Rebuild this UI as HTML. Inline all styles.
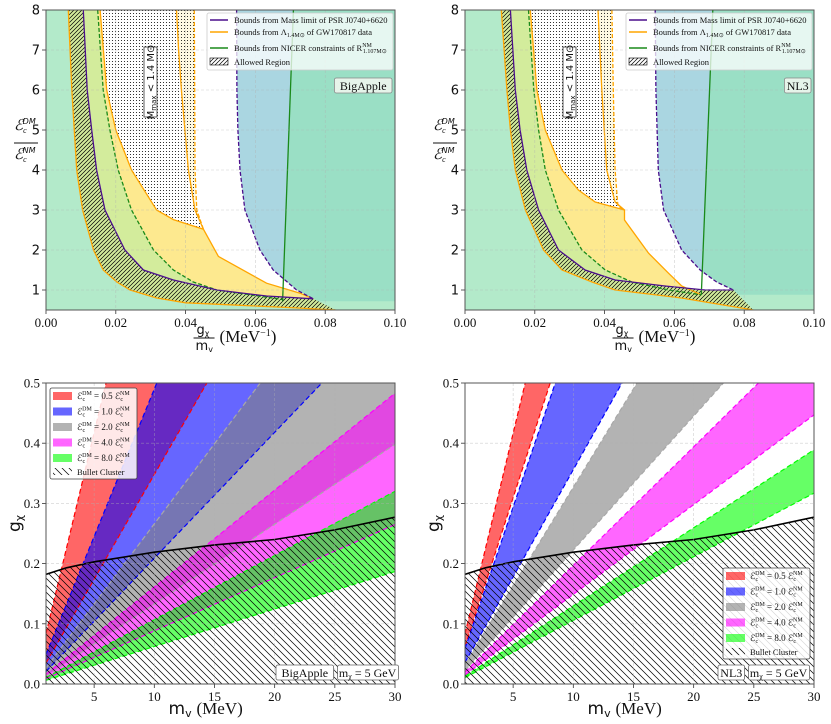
<!DOCTYPE html>
<html><head><meta charset="utf-8"><style>
html,body{margin:0;padding:0;background:#fff;}
svg{display:block;font-family:"Liberation Serif",serif;}
</style></head><body>
<svg id="chart" width="831" height="724" viewBox="0 0 831 724" xmlns="http://www.w3.org/2000/svg">
<defs>
<pattern id="hatchF" patternUnits="userSpaceOnUse" width="4" height="4"><path d="M0,4 L4,0 M-1,1 L1,-1 M3,5 L5,3" stroke="#000" stroke-width="0.7"/></pattern>
<pattern id="hatchB" patternUnits="userSpaceOnUse" width="7" height="7"><path d="M0,0 L7,7 M-1,6 L1,8 M6,-1 L8,1" stroke="#000" stroke-width="0.7"/></pattern>
<pattern id="dots" patternUnits="userSpaceOnUse" width="3" height="3"><circle cx="1.5" cy="1.5" r="0.55" fill="#000"/></pattern>
<clipPath id="c0"><rect x="46" y="10" width="349" height="300"/></clipPath>
<clipPath id="c1"><rect x="465" y="10" width="349" height="300"/></clipPath>
<clipPath id="c2"><rect x="46" y="383" width="349" height="301"/></clipPath>
<clipPath id="c3"><rect x="465" y="383" width="349" height="301"/></clipPath>
</defs>
</svg>
<script>
// ---------- Top panels data: [g/m, eps ratio] ----------
const baA=[[0.0064,8],[0.0074,6],[0.0088,4],[0.0105,3],[0.0136,2],[0.0164,1.5],[0.0203,1.2],[0.0241,1.0],[0.0317,0.8],[0.040,0.68],[0.055,0.62],[0.070,0.56],[0.083,0.5]];
const baB=[[0.0107,8],[0.0118,6],[0.0131,5],[0.0145,4],[0.0169,3],[0.0226,2],[0.0279,1.5],[0.0365,1.25],[0.049,1.0],[0.0632,0.85],[0.0766,0.78]];
const baC=[[0.0148,8],[0.0164,6],[0.0183,5],[0.0207,4],[0.0245,3],[0.0308,2],[0.0365,1.5],[0.0422,1.2],[0.049,1.0],[0.068,0.76]];
const baD=[[0.0155,8],[0.0174,6],[0.020,5],[0.0245,4],[0.0317,3],[0.0365,2.76],[0.0451,2.52],[0.0494,1.84],[0.0632,1.17],[0.0728,0.92],[0.0766,0.78]];
const baDk=6;
const baD2=[[0.0374,8],[0.038,7],[0.0388,6],[0.0398,5],[0.0408,4],[0.0427,3],[0.0451,2.52]];
const baE=[[0.0425,8],[0.0426,6],[0.0427,4],[0.0432,3],[0.0451,2.52]];
const baF=[[0.0546,8],[0.0547,6],[0.0550,5],[0.0556,4],[0.057,3],[0.0613,2],[0.0651,1.5],[0.0718,1.0],[0.0766,0.78]];
const baG=[[0.0709,8],[0.0678,0.72]];

const nlA=[[0.0104,8],[0.012,6],[0.0130,5],[0.0144,4],[0.0173,3],[0.0225,2],[0.0278,1.5],[0.0364,1.2],[0.043,1.0],[0.062,0.8],[0.0826,0.5]];
const nlB=[[0.013,8],[0.0144,6],[0.0158,5],[0.0177,4],[0.0211,3],[0.0268,2],[0.0344,1.5],[0.043,1.25],[0.0573,1.1],[0.0688,1.0],[0.0769,1.0]];
const nlC=[[0.0182,8],[0.0197,6],[0.0211,5],[0.023,4],[0.0268,3],[0.0335,2],[0.0402,1.5],[0.0478,1.2],[0.0583,1.0],[0.0677,0.88]];
const nlD=[[0.0187,8],[0.0206,6],[0.023,5],[0.0278,4],[0.0325,3.5],[0.0373,3.2],[0.0457,3.0],[0.0457,2.75],[0.0526,1.92],[0.0583,1.42],[0.0621,1.1],[0.0677,0.88]];
const nlDk=6;
const nlD2=[[0.0381,8],[0.0392,6],[0.0406,4],[0.043,3.2],[0.0457,3.0]];
const nlE=[[0.0421,8],[0.0425,6],[0.043,4],[0.0438,3.1],[0.0457,3.0]];
const nlF=[[0.0545,8],[0.0547,6],[0.0554,4],[0.0569,3],[0.0621,2],[0.0674,1.5],[0.0721,1.2],[0.0769,1.0]];
const nlG=[[0.071,8],[0.0677,0.88]];

const topXTicks=[0,0.02,0.04,0.06,0.08,0.10];
const topXLabels=["0.00","0.02","0.04","0.06","0.08","0.10"];
const topYTicks=[1,2,3,4,5,6,7,8];

// ---------- Bottom panels data: band slopes g/m ----------
const bandLabels=["0.5","1.0","2.0","4.0","8.0"];
const bandColors=["#ff0000","#0000ff","#808080","#ff00ff","#00ff00"];
const baBandUpper=[0.0835,0.049,0.0266,0.0161,0.01067];
const baBandLower=[0.0348,0.0209,0.01327,0.00883,0.00623];
const nlBandUpper=[0.0833,0.0588,0.0327,0.0197,0.01297];
const nlBandLower=[0.0619,0.0356,0.02225,0.0149,0.01057];
const bulletM=[1,2.7,5,10,15,20,25,30];
const bulletG=[0.182,0.193,0.203,0.219,0.231,0.240,0.256,0.277];
const botXTicks=[5,10,15,20,25,30];
const botYTicks=[0,0.1,0.2,0.3,0.4,0.5];
const botYLabels=["0.0","0.1","0.2","0.3","0.4","0.5"];

const NS="http://www.w3.org/2000/svg";
const svg=document.getElementById('chart');
function mk(tag,attrs,name,parent){
  const el=document.createElementNS(NS,tag);
  for(const k in attrs) el.setAttribute(k,attrs[k]);
  
  
  (parent||svg).appendChild(el);
  return el;
}
function scale(p0,p1,d0,d1){return v=>p0+(v-d0)/(d1-d0)*(p1-p0);}
function pts(arr,sx,sy){return arr.map(p=>sx(p[0]).toFixed(1)+","+sy(p[1]).toFixed(1)).join(" ");}
function txt(x,y,s,attrs,name,parent){const t=mk('text',Object.assign({x:x,y:y},attrs),name,parent);t.innerHTML=s;return t;}

function axesFrame(x0,x1,yt,yb,sx,sy,xt,xl,yt2,yl,g,ysans){
  xt.forEach((v,i)=>{
    mk('line',{x1:sx(v),x2:sx(v),y1:yt,y2:yb,stroke:"#b0b0b0","stroke-width":0.6,"stroke-dasharray":"3,2",opacity:0.6},'x-grid-line',g);
    mk('line',{x1:sx(v),x2:sx(v),y1:yb,y2:yb+4,stroke:"#333","stroke-width":0.8},'x-tick',g);
    txt(sx(v),yb+17,xl[i],{"text-anchor":"middle","font-size":13,fill:"#111"},'x-tick-label',g);
  });
  yt2.forEach((v,i)=>{
    mk('line',{x1:x0,x2:x1,y1:sy(v),y2:sy(v),stroke:"#b0b0b0","stroke-width":0.6,"stroke-dasharray":"3,2",opacity:0.6},'y-grid-line',g);
    mk('line',{x1:x0-4,x2:x0,y1:sy(v),y2:sy(v),stroke:"#333","stroke-width":0.8},'y-tick',g);
    txt(x0-6,sy(v)+4.5,yl[i],{"text-anchor":"end","font-size":13,fill:"#111","font-family":ysans?'"DejaVu Sans",sans-serif':'"Liberation Serif",serif'},'y-tick-label',g);
  });
  mk('rect',{x:x0,y:yt,width:x1-x0,height:yb-yt,fill:"none",stroke:"#555","stroke-width":1},'plot-frame',g);
}

function topPanel(id,x0,x1,d,label,legX,mmX){
  const g=mk('g',{},'panel-'+id);
  const sx=scale(x0,x1,0,0.1), sy=scale(310,10,0.5,8);
  const c=mk('g',{"clip-path":"url(#c"+id+")"},'plot-area',g);
  mk('rect',{x:x0,y:10,width:x1-x0,height:300,fill:"#b3eaca"},'excluded-region',c);
  mk('polygon',{points:pts(d.G.concat([[0.1,d.G[1][1]],[0.1,8]]),sx,sy),fill:"#9adfc5"},'nicer-excluded-region',c);
  mk('polygon',{points:pts(d.F.concat(d.G.slice().reverse()),sx,sy),fill:"#aad6e1"},'mass-limit-region',c);
  mk('polygon',{points:pts(d.D.concat(d.F.slice().reverse()),sx,sy),fill:"#ffffff"},'white-region',c);
  mk('polygon',{points:pts(d.C.concat(d.D.slice().reverse()),sx,sy),fill:"#fde98f"},'lambda-region',c);
  mk('polygon',{points:pts(d.B.concat(d.C.slice().reverse()),sx,sy),fill:"#d3ec9c"},'yellowgreen-band',c);
  const hp=d.A.concat(d.B.slice().reverse());
  mk('polygon',{points:pts(hp,sx,sy),fill:"#d3ec9c"},'allowed-region-fill',c);
  mk('polygon',{points:pts(hp,sx,sy),fill:"url(#hatchF)"},'allowed-region-hatch',c);
  mk('polygon',{points:pts(d.D2.concat(d.E.slice().reverse()),sx,sy),fill:"#fde98f"},'lambda-strip',c);
  const dp=d.D.slice(0,d.k+1).concat(d.E.slice().reverse());
  mk('polygon',{points:pts(dp,sx,sy),fill:"#fff",opacity:0.75},'mmax-region-bg',c);
  mk('polygon',{points:pts(dp,sx,sy),fill:"url(#dots)"},'mmax-region-dots',c);
  const L=(a,col,dash,nm,w)=>mk('polyline',{points:pts(a,sx,sy),fill:"none",stroke:col,"stroke-width":w||1.3,"stroke-dasharray":dash||"none"},nm,c);
  L(d.A,"#ffa500",null,'orange-lower-bound');
  L(d.D,"#ffa500",null,'orange-bound');
  L(d.D2,"#ffa500",null,'orange-bound-2');
  L(d.E,"#ffa500","4,2",'orange-dashed-bound');
  L(d.C,"#1a8a1a","4,2",'green-dashed-bound');
  L(d.G,"#1a8a1a",null,'nicer-bound');
  L(d.B,"#4b0f8c",null,'mass-limit-bound');
  L(d.F,"#4b0f8c","4,2",'mass-limit-dashed-bound');
  axesFrame(x0,x1,10,310,sx,sy,topXTicks,topXLabels,topYTicks,topYTicks.map(String),g,true);
  // legend
  const lg=mk('g',{},'legend',g);
  mk('rect',{x:legX,y:13,width:186,height:57,rx:2,fill:"#fff","fill-opacity":0.75,stroke:"#ccc","stroke-width":0.8},'legend-box',lg);
  const ent=[["#4b0f8c","Bounds from Mass limit of PSR J0740+6620",20],["#ffa500","Bounds from Λ<tspan font-size='6' dy='2'>1.4M⊙</tspan><tspan dy='-2'> of GW170817 data</tspan>",32],["#1a8a1a","Bounds from NICER constraints of R<tspan font-size='6' dy='-4'>NM</tspan><tspan font-size='6' dx='-9' dy='6'>1.107M⊙</tspan>",48]];
  ent.forEach(e=>{
    mk('line',{x1:legX+3,x2:legX+21,y1:e[2],y2:e[2],stroke:e[0],"stroke-width":1.4},'legend-line',lg);
    txt(legX+27,e[2]+3,e[1],{"font-size":8.5,fill:"#111"},'legend-label',lg);
  });
  mk('rect',{x:legX+3,y:58,width:18,height:7,fill:"url(#hatchF)",stroke:"#000","stroke-width":0.6},'legend-hatch-patch',lg);
  txt(legX+27,65,"Allowed Region",{"font-size":8.5,fill:"#111"},'legend-label',lg);
  const bw=label.length*6.2+8;
  mk('rect',{x:x1-bw-3,y:78,width:bw,height:15,rx:2,fill:"#e6f4ea",stroke:"#888","stroke-width":0.8},'model-label-box',g);
  txt(x1-3-bw/2,90,label,{"text-anchor":"middle","font-size":12,fill:"#111"},'model-label',g);
  mk('rect',{x:mmX,y:47,width:13,height:70,fill:"#fff",stroke:"#333","stroke-width":0.8},'mmax-label-box',g);
  txt(0,0,"M<tspan font-size='7' dy='2'>max</tspan><tspan dy='-2'> &lt; 1.4 M⊙</tspan>",{"font-size":10,fill:"#111","font-family":'"DejaVu Sans",sans-serif',"text-anchor":"middle",transform:"translate("+(mmX+10)+",82) rotate(-90)"},'mmax-label',g);
  // axis labels
  const yx=x0-32;
  txt(yx,130,"ℰ<tspan font-size='8' dy='3'>c</tspan><tspan font-size='8' dx='-4' dy='-9' font-family='DejaVu Sans,sans-serif'>DM</tspan>",{"font-size":15,"font-style":"italic",fill:"#111"},'y-axis-title-numerator',g);
  mk('line',{x1:yx,x2:yx+24,y1:143,y2:143,stroke:"#111","stroke-width":0.9},'y-axis-title-bar',g);
  txt(yx,159,"ℰ<tspan font-size='8' dy='3'>c</tspan><tspan font-size='8' dx='-4' dy='-9' font-family='DejaVu Sans,sans-serif'>NM</tspan>",{"font-size":15,"font-style":"italic",fill:"#111"},'y-axis-title-denominator',g);
  const cx=x0+(x1-x0)*0.46;
  txt(cx-10,334,"g<tspan font-size='8' dy='2'>χ</tspan>",{"font-size":13,fill:"#111","font-family":'"DejaVu Sans",sans-serif'},'x-axis-title-numerator',g);
  mk('line',{x1:cx-13,x2:cx+8,y1:338,y2:338,stroke:"#111","stroke-width":0.9},'x-axis-title-bar',g);
  txt(cx-11,350,"m<tspan font-size='8' dy='2'>v</tspan>",{"font-size":13,fill:"#111","font-family":'"DejaVu Sans",sans-serif'},'x-axis-title-denominator',g);
  txt(cx+13,342,"(MeV<tspan font-size='10' dy='-6'>−1</tspan><tspan dy='6'>)</tspan>",{"font-size":17,fill:"#111"},'x-axis-title-unit',g);
}

function botPanel(id,x0,x1,up,lo,label,legX,legY,boxX){
  const g=mk('g',{},'panel-'+id);
  const sx=scale(x0,x1,1,30), sy=scale(684,383,0,0.5);
  const c=mk('g',{"clip-path":"url(#c"+id+")"},'plot-area',g);
  mk('rect',{x:x0,y:383,width:x1-x0,height:301,fill:"#fff"},'plot-bg',c);
  up.forEach((s,i)=>{
    const poly=[[1,lo[i]*1],[30,lo[i]*30],[30,up[i]*30],[1,up[i]*1]];
    mk('polygon',{points:pts(poly,sx,sy),fill:bandColors[i],"fill-opacity":0.6},'band-'+bandLabels[i],c);
  });
  up.forEach((s,i)=>{
    [up[i],lo[i]].forEach(k=>{
      mk('line',{x1:sx(1),y1:sy(k),x2:sx(30),y2:sy(k*30),stroke:i==2?"#a8a8a8":bandColors[i],"stroke-width":1.2,"stroke-dasharray":"5,3"},'band-edge-line',c);
    });
  });
  const bc=bulletM.map((m,i)=>[m,bulletG[i]]);
  mk('polygon',{points:pts(bc.concat([[30,0],[1,0]]),sx,sy),fill:"url(#hatchB)"},'bullet-cluster-hatch',c);
  mk('polyline',{points:pts(bc,sx,sy),fill:"none",stroke:"#000","stroke-width":1.6},'bullet-cluster-curve',c);
  axesFrame(x0,x1,383,684,sx,sy,botXTicks,botXTicks.map(String),botYTicks,botYLabels,g,false);
  const lg=mk('g',{},'legend',g);
  mk('rect',{x:legX,y:legY,width:87,height:91,rx:2,fill:"#fff","fill-opacity":0.85,stroke:"#444","stroke-width":0.8},'legend-box',lg);
  bandLabels.forEach((b,i)=>{
    const yy=legY+8+i*15.5;
    mk('rect',{x:legX+3,y:yy-4,width:19,height:8,fill:bandColors[i],"fill-opacity":0.6},'legend-patch',lg);
    txt(legX+27,yy+3,"ℰ<tspan font-size='6' dy='2'>c</tspan><tspan font-size='6' dx='-3' dy='-6'>DM</tspan><tspan dy='4'> = "+b+" ℰ</tspan><tspan font-size='6' dy='2'>c</tspan><tspan font-size='6' dx='-3' dy='-6'>NM</tspan>",{"font-size":9,fill:"#111"},'legend-label',lg);
  });
  mk('rect',{x:legX+3,y:legY+80,width:19,height:7,fill:"url(#hatchB)"},'legend-hatch-patch',lg);
  txt(legX+27,legY+87,"Bullet Cluster",{"font-size":8.5,fill:"#111"},'legend-label',lg);
  const bw=label.length*6.2+8;
  mk('rect',{x:boxX,y:665,width:bw,height:15,rx:2,fill:"#fff",stroke:"#666","stroke-width":0.8},'model-label-box',g);
  txt(boxX+bw/2,677,label,{"text-anchor":"middle","font-size":12,fill:"#111"},'model-label',g);
  mk('rect',{x:boxX+bw+4,y:665,width:61,height:15,rx:2,fill:"#fff",stroke:"#666","stroke-width":0.8},'mass-label-box',g);
  txt(boxX+bw+34,677,"m<tspan font-size='8' dy='2'>χ</tspan><tspan dy='-2'> = 5 GeV</tspan>",{"text-anchor":"middle","font-size":12,fill:"#111"},'mass-label',g);
  txt(0,0,"g<tspan font-size='11' dy='3'>χ</tspan>",{"font-size":17,fill:"#111","font-family":'"DejaVu Sans",sans-serif',transform:"translate("+(x0-26)+",532) rotate(-90)"},'y-axis-title',g);
  const cx=x0+(x1-x0)*0.48;
  txt(cx-45,714,"m<tspan font-size='11' dy='3'>v</tspan>",{"font-size":17,fill:"#111","font-family":'"DejaVu Sans",sans-serif'},'x-axis-title-symbol',g);
  txt(cx-17,714,"(MeV)",{"font-size":17,fill:"#111"},'x-axis-title-unit',g);
}

topPanel(0,46,395,{A:baA,B:baB,C:baC,D:baD,k:baDk,D2:baD2,E:baE,F:baF,G:baG},"BigApple",207,144);
topPanel(1,465,814,{A:nlA,B:nlB,C:nlC,D:nlD,k:nlDk,D2:nlD2,E:nlE,F:nlF,G:nlG},"NL3",626,563);
botPanel(2,46,395,baBandUpper,baBandLower,"BigApple",50,388,276);
botPanel(3,465,814,nlBandUpper,nlBandLower,"NL3",723,568,718);
</script>
</body></html>
